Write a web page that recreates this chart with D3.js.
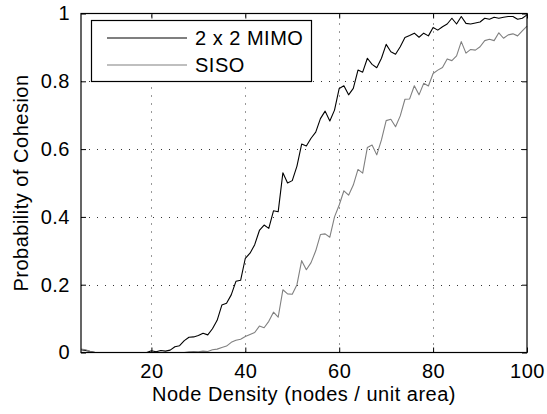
<!DOCTYPE html>
<html><head><meta charset="utf-8">
<script src="https://cdn.jsdelivr.net/npm/d3@7"></script>
<style>body{margin:0;background:#fff}svg{display:block}text{font-family:"Liberation Sans",Arial,Helvetica,sans-serif;letter-spacing:0.5px}</style>
</head><body><svg id="c" width="547" height="414"></svg>
<script>
const xValues = d3.range(5, 101);
const mimo = [0.008,0.006,0.003,0,0,0,0,0,0,0,0,0,0,0,0,0.005,0.002,0.006,0.004,0.007,
0.017,0.02,0.035,0.045,0.046,0.05,0.057,0.052,0.07,0.095,
0.14,0.145,0.17,0.21,0.213,0.278,0.293,0.318,0.36,0.376,
0.366,0.418,0.415,0.53,0.5,0.507,0.55,0.615,0.609,0.632,
0.65,0.69,0.712,0.683,0.715,0.779,0.787,0.76,0.779,0.833,
0.827,0.868,0.85,0.84,0.868,0.909,0.887,0.88,0.902,0.929,
0.935,0.942,0.93,0.942,0.934,0.959,0.951,0.961,0.969,0.986,
0.969,0.991,0.971,0.969,0.972,0.975,0.986,0.983,0.989,0.986,
0.989,0.991,0.991,0.983,0.986,0.996];
const siso = [0.01,0.008,0.003,0,0,0,0,0,0,0,0,0,0,0,0,0,0,0,0,0,
0,0,0,0.002,0.003,0.002,0.004,0.003,0.008,0.01,
0.015,0.019,0.03,0.036,0.039,0.047,0.053,0.059,0.078,0.073,
0.092,0.119,0.104,0.185,0.173,0.172,0.2,0.271,0.244,0.265,
0.3,0.348,0.35,0.34,0.4,0.435,0.477,0.464,0.494,0.54,
0.529,0.605,0.612,0.583,0.627,0.684,0.688,0.666,0.698,0.747,
0.748,0.787,0.76,0.794,0.786,0.823,0.833,0.841,0.866,0.861,
0.875,0.917,0.883,0.894,0.892,0.902,0.92,0.924,0.92,0.943,
0.927,0.937,0.94,0.934,0.949,0.963];
const seriesNames = ["2 x 2 MIMO", "SISO"];
const seriesColors = ["#000000", "#808080"];
const xTicks = [20, 40, 60, 80, 100];
const yTicks = [0, 0.2, 0.4, 0.6, 0.8, 1];
const xLabel = "Node Density (nodes / unit area)";
const yLabel = "Probability of Cohesion";

const L = 81, R = 527, T = 13.5, B = 352.5;
const svg = d3.select("#c");
const x = d3.scaleLinear().domain([5, 100]).range([L, R]);
const y = d3.scaleLinear().domain([0, 1]).range([B, T]);
const fs = 20;
const FF = '"Liberation Sans",Arial,Helvetica,sans-serif';

// grid
const g = svg.append("g").attr("stroke", "#333").attr("stroke-width", 1).attr("stroke-dasharray", "1,7");
g.selectAll(".vx").data(xTicks.filter(t => t < 100)).enter().append("line")
  .attr("x1", d => Math.round(x(d)) + 0.5).attr("x2", d => Math.round(x(d)) + 0.5)
  .attr("y1", B).attr("y2", T);
g.selectAll(".hy").data(yTicks.filter(t => t > 0 && t < 1)).enter().append("line")
  .attr("y1", d => Math.round(y(d)) + 0.5).attr("y2", d => Math.round(y(d)) + 0.5)
  .attr("x1", L).attr("x2", R);

// lines
const line = d3.line().x((d, i) => x(xValues[i])).y(d => y(d));
[mimo, siso].forEach((s, k) => {
  svg.append("path").datum(s).attr("d", line).attr("fill", "none")
    .attr("stroke", seriesColors[k]).attr("stroke-width", 1.1).attr("stroke-linejoin", "round");
});

// axes (ticks inward on all sides)
const ax = svg.append("g");
ax.append("g").attr("transform", `translate(0,${B})`)
  .call(d3.axisBottom(x).tickValues(xTicks).tickSize(-5).tickPadding(11).tickFormat(d3.format("d")));
ax.append("g").attr("transform", `translate(0,${T})`)
  .call(d3.axisTop(x).tickValues(xTicks).tickSize(-5).tickFormat(""));
ax.append("g").attr("transform", `translate(${L},0)`)
  .call(d3.axisLeft(y).tickValues(yTicks).tickSize(-5).tickPadding(11).tickFormat(d => d === 0 || d === 1 ? String(d) : d3.format(".1f")(d)));
ax.append("g").attr("transform", `translate(${R},0)`)
  .call(d3.axisRight(y).tickValues(yTicks).tickSize(-5).tickFormat(""));
ax.selectAll(".domain").remove();
ax.selectAll("g").attr("font-size", fs).attr("font-family", FF);
ax.selectAll("line").attr("stroke", "#000");
ax.selectAll("text").attr("fill", "#000").attr("font-size", fs).attr("font-family", FF);
svg.append("rect").attr("x", L).attr("y", T).attr("width", R - L).attr("height", B - T)
  .attr("fill", "none").attr("stroke", "#000").attr("stroke-width", 1.2);

// labels
svg.append("text").attr("x", (L + R) / 2).attr("y", 401).attr("text-anchor", "middle")
  .attr("font-size", fs).text(xLabel);
svg.append("text").attr("transform", `translate(28,${(T + B) / 2}) rotate(-90)`).attr("text-anchor", "middle")
  .attr("font-size", fs).text(yLabel);

// legend
const lg = svg.append("g");
lg.append("rect").attr("x", 91.5).attr("y", 20.5).attr("width", 220).attr("height", 61)
  .attr("fill", "#fff").attr("stroke", "#000").attr("stroke-width", 1.2);
seriesNames.forEach((n, k) => {
  const yy = 38 + k * 27;
  lg.append("line").attr("x1", 107).attr("x2", 187).attr("y1", yy).attr("y2", yy)
    .attr("stroke", seriesColors[k]).attr("stroke-width", 1.1);
  lg.append("text").attr("x", 195).attr("y", yy).attr("dy", "0.35em").attr("font-size", fs).text(n);
});
</script></body></html>
